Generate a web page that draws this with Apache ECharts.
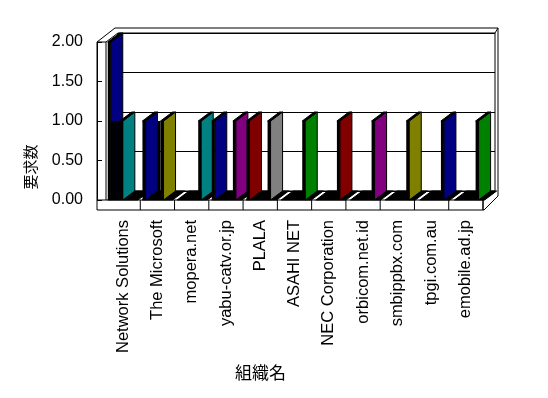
<!DOCTYPE html>
<html>
<head>
<meta charset="utf-8">
<script src="https://cdn.jsdelivr.net/npm/echarts@6/dist/echarts.min.js"></script>
<style>
html,body{margin:0;padding:0;background:#fff;}
#main{width:548px;height:398px;}
</style>
</head>
<body>
<div id="main"></div>
<script>
// 組織名 (カテゴリ)
var orgs = ['Network Solutions', 'The Microsoft', 'mopera.net', 'yabu-catv.or.jp', 'PLALA',
    'ASAHI NET', 'NEC Corporation', 'orbicom.net.id', 'smbippbx.com', 'tpgi.com.au', 'emobile.ad.jp'];
var yTicks = [0, 0.5, 1, 1.5, 2];

// 要求数: 各カテゴリ内に並ぶ10本の棒 (左から順)
var s1  = [2, 1, 0, 1, 1, 0, 0, 0, 0, 0, 0];
var s2  = [1, 0, 0, 0, 0, 0, 0, 0, 0, 0, 0];
var s3  = [1, 0, 0, 0, 0, 0, 0, 0, 0, 0, 0];
var s4  = [1, 0, 0, 0, 0, 0, 0, 0, 0, 0, 0];
var s5  = [1, 0, 0, 0, 0, 0, 0, 0, 0, 0, 0];
var s6  = [0, 1, 0, 0, 0, 0, 0, 0, 0, 0, 0];
var s7  = [0, 1, 0, 0, 0, 0, 0, 0, 0, 0, 0];
var s8  = [0, 0, 1, 1, 1, 1, 1, 1, 1, 1, 1];
var s9  = [0, 0, 0, 0, 0, 0, 0, 0, 0, 0, 0];
var s10 = [0, 0, 0, 0, 0, 0, 0, 0, 0, 0, 0];
var slots = [s1, s2, s3, s4, s5, s6, s7, s8, s9, s10];

// 側面の色 ("棒,カテゴリ")
var faceColor = {
    '0,0': '#000080', '4,0': '#008080',
    '0,1': '#000080', '6,1': '#808000',
    '7,2': '#008080',
    '0,3': '#000080', '7,3': '#800080',
    '0,4': '#800000', '7,4': '#808080',
    '7,5': '#008000', '7,6': '#800000', '7,7': '#800080',
    '7,8': '#808000', '7,9': '#000080', '7,10': '#008000'
};

var DX = 12, DY = 9; // 奥行き
var font = 'Liberation Sans';

var barData = [];
orgs.forEach(function (o, i) {
    slots.forEach(function (arr, k) {
        if (arr[i] > 0) barData.push([i, arr[i], k]);
    });
});
var catIdx = orgs.map(function (o, i) { return [i, 0]; });

function renderFloor(params, api) {
    var i = api.value(0);
    var band = api.size([1, 0])[0];
    var sw = band / (slots.length + 1.5);
    var p = api.coord([i, 0]);
    var xl = p[0] - band / 2 + sw * 0.75, xr = p[0] + band / 2 - sw * 0.75;
    return {
        type: 'polygon',
        shape: {points: [[xl, p[1]], [xr, p[1]], [xr + DX, p[1] - DY], [xl + DX, p[1] - DY]]},
        style: {fill: '#000', stroke: '#000', lineWidth: 1}
    };
}

function renderBar(params, api) {
    var i = api.value(0), v = api.value(1), k = api.value(2);
    var band = api.size([1, 0])[0];
    var sw = band / (slots.length + 1.5);
    var p0 = api.coord([i, 0]);
    var x = p0[0] - band / 2 + sw * 0.75 + k * sw;
    var y0 = p0[1];
    var y1 = api.coord([i, v])[1];
    var next = k + 1 < slots.length ? slots[k + 1][i] : 0;
    var kids = [];
    if (next < v) {
        kids.push({
            type: 'polygon',
            shape: {points: [[x + sw, y0], [x + sw, y1], [x + sw + DX, y1 - DY], [x + sw + DX, y0 - DY]]},
            style: {fill: faceColor[k + ',' + i] || '#000', stroke: '#000', lineWidth: 1}
        });
        kids.push({
            type: 'polygon',
            shape: {points: [[x, y1], [x + sw, y1], [x + sw + DX, y1 - DY], [x + DX, y1 - DY]]},
            style: {fill: '#000', stroke: '#000', lineWidth: 1}
        });
    }
    kids.push({
        type: 'rect',
        shape: {x: x, y: y1, width: sw, height: y0 - y1},
        style: {fill: '#000'}
    });
    return {type: 'group', children: kids};
}

function renderDivider(params, api) {
    var i = api.value(0);
    var band = api.size([1, 0])[0];
    var b = api.coord([i, 0]), t = api.coord([i, 1]);
    var x = b[0] + band / 2;
    return {
        type: 'line',
        shape: {x1: x, y1: t[1], x2: x, y2: b[1]},
        style: {stroke: '#000', lineWidth: 1}
    };
}

var chart = echarts.init(document.getElementById('main'));
chart.setOption({
    backgroundColor: '#fff',
    animation: false,
    grid: [
        {left: 118, top: 33, width: 377, height: 158, show: true, backgroundColor: '#fff', borderColor: '#000', borderWidth: 1},
        {left: 97, top: 42, width: 9, height: 158},
        {left: 105.5, top: 42, width: 381.4, height: 158},
        {left: 106, top: 200, width: 377, height: 10}
    ],
    xAxis: [
        {gridIndex: 0, type: 'value', show: false},
        {gridIndex: 1, type: 'value', show: false},
        {gridIndex: 2, type: 'category', data: orgs, show: false},
        {gridIndex: 3, type: 'category', data: orgs,
            axisLine: {show: false}, axisTick: {show: false},
            axisLabel: {interval: 0, rotate: 90, margin: 10, color: '#000', fontSize: 16.5, fontFamily: font}}
    ],
    yAxis: [
        {gridIndex: 0, type: 'value', min: 0, max: 2, interval: 0.5,
            axisLine: {show: false}, axisTick: {show: false}, axisLabel: {show: false},
            splitLine: {lineStyle: {color: '#000', width: 1}}},
        {gridIndex: 1, type: 'value', min: yTicks[0], max: yTicks[yTicks.length - 1], interval: 0.5,
            axisLine: {show: true, lineStyle: {color: '#000'}},
            axisTick: {show: true, inside: true, length: 5, lineStyle: {color: '#000'}},
            axisLabel: {margin: 14, color: '#000', fontSize: 16, fontFamily: font,
                padding: [9, 0, 0, 0],
                formatter: function (v) { return v.toFixed(2); }},
            splitLine: {show: false}},
        {gridIndex: 2, type: 'value', min: 0, max: 2, show: false},
        {gridIndex: 3, type: 'value', min: 0, max: 1, show: false}
    ],
    graphic: [
        {type: 'polyline', z: 10, shape: {points: [[97, 210], [97, 42], [115, 28], [498, 28], [498, 196], [484, 210], [97, 210]]},
            style: {stroke: '#000', fill: null, lineWidth: 1}},
        {type: 'polyline', z: 10, shape: {points: [[97, 42], [106, 42], [106, 200]]}, style: {stroke: '#000', fill: null}},
        {type: 'line', z: 10, shape: {x1: 106, y1: 42, x2: 118, y2: 33}, style: {stroke: '#000'}},
        {type: 'line', z: 10, shape: {x1: 97, y1: 200, x2: 483, y2: 200}, style: {stroke: '#000'}},
        {type: 'line', z: 10, shape: {x1: 483, y1: 200, x2: 483, y2: 210}, style: {stroke: '#000'}},
        {type: 'line', z: 10, shape: {x1: 483, y1: 200, x2: 495, y2: 191}, style: {stroke: '#000'}},
        {type: 'line', z: 10, shape: {x1: 495, y1: 33, x2: 498, y2: 28}, style: {stroke: '#000'}},
        {type: 'text', left: 235, top: 364, style: {text: '組織名', fill: '#000', font: '17px "Noto Sans CJK JP"'}},
        {type: 'text', x: 30, y: 167, rotation: Math.PI / 2,
            style: {text: '要求数', fill: '#000', font: '15px "Noto Sans CJK JP"', textAlign: 'center', textVerticalAlign: 'middle'}}
    ],
    series: [
        {type: 'custom', xAxisIndex: 2, yAxisIndex: 2, z: 3, data: catIdx, renderItem: renderFloor},
        {type: 'custom', xAxisIndex: 2, yAxisIndex: 2, z: 4, data: barData, renderItem: renderBar},
        {type: 'custom', xAxisIndex: 3, yAxisIndex: 3, z: 5, data: catIdx, renderItem: renderDivider}
    ]
});
</script>
</body>
</html>
